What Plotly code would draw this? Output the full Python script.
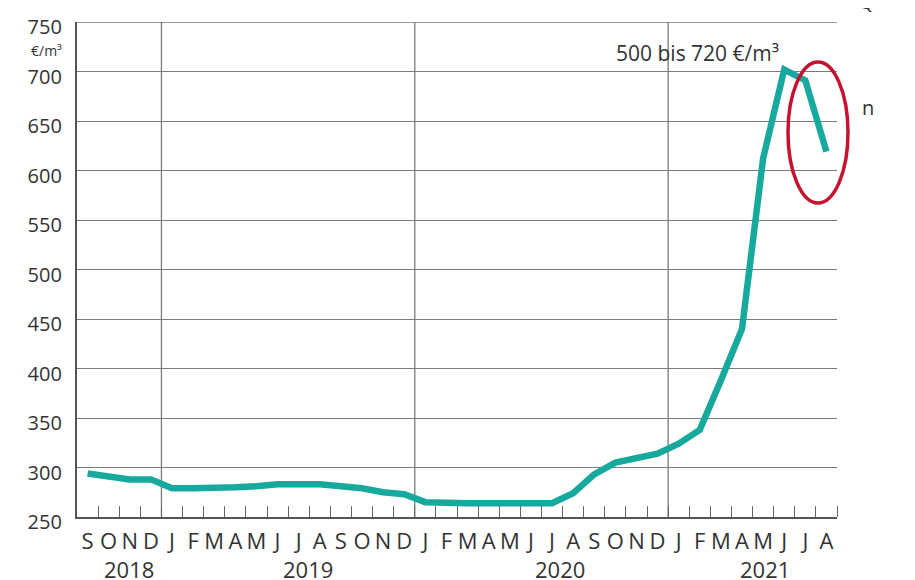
import plotly.graph_objects as go

months_2018 = ["S", "O", "N", "D"]
months_full = ["J", "F", "M", "A", "M", "J", "J", "A", "S", "O", "N", "D"]
months_2021 = ["J", "F", "M", "A", "M", "J", "J", "A"]
month_labels = months_2018 + months_full + months_full + months_2021

years = ["2018", "2019", "2020", "2021"]

price_2018 = [294, 291, 288, 288]
price_2019 = [279, 279, 279, 280, 281, 283, 283, 283, 281, 279, 275, 273]
price_2020 = [265, 264, 264, 264, 264, 264, 264, 274, 293, 305, 310, 314]
price_2021 = [324, 338, 388, 440, 612, 702, 691, 619]
prices = price_2018 + price_2019 + price_2020 + price_2021

y_ticks = [250, 300, 350, 400, 450, 500, 550, 600, 650, 700, 750]

FONT = "Open Sans"
TXT = "#333333"
GRID = "#7a7a7a"

# plot area in reference pixels: x 77..837, y 22..517 ; page body adds 8px offset
L, T, W, H = 77, 22, 760, 495
OFF = 8


def px(xp):
    return (xp - L) / W


def py(yp):
    return (T + H - yp) / H


x_idx = list(range(len(month_labels)))
seg_lens = [len(months_2018), 12, 12, len(months_2021)]
bounds = []
acc = 0
for s in seg_lens[:-1]:
    acc += s
    bounds.append(acc - 0.5)
starts = [0]
for s in seg_lens[:-1]:
    starts.append(starts[-1] + s)
year_x = [s + (n - 1) / 2 + off for s, n, off in zip(starts, seg_lens, [0.45, 0.95, 0.9, 0.6])]

fig = go.Figure()
fig.add_trace(go.Scatter(
    x=x_idx, y=prices, mode="lines",
    line=dict(color="#17a99d", width=6.5),
    hoverinfo="skip", showlegend=False,
))

shapes = []
for b in bounds:
    shapes.append(dict(type="line", xref="x", yref="paper", x0=b, x1=b, y0=0, y1=1,
                       line=dict(color=GRID, width=1.3), layer="below"))
# top frame line at the highest tick
shapes.append(dict(type="line", xref="paper", yref="y", x0=0, x1=1, y0=y_ticks[-1], y1=y_ticks[-1],
                   line=dict(color=GRID, width=1.3), layer="below"))
shapes.append(dict(type="circle", xref="paper", yref="paper",
                   x0=px(788), x1=px(848), y0=py(203), y1=py(62),
                   line=dict(color="#c4122f", width=3.5)))

annotations = []
for yx, yl in zip(year_x, years):
    annotations.append(dict(x=yx, y=0, xref="x", yref="paper", xanchor="center", yanchor="middle",
                            yshift=-52, text=yl, showarrow=False,
                            font=dict(family=FONT, size=22, color=TXT)))
annotations.append(dict(x=28.9, y=719, xref="x", yref="y", xanchor="center", yanchor="middle",
                        text="500 bis 720 €/m³", showarrow=False,
                        font=dict(family=FONT, size=21, color=TXT)))
annotations.append(dict(x=0, y=py(50), xref="paper", yref="paper", xanchor="right", yanchor="middle",
                        xshift=-13, text="€/m³", showarrow=False,
                        font=dict(family=FONT, size=14, color=TXT)))
annotations.append(dict(x=px(868), y=py(107), xref="paper", yref="paper", xanchor="center",
                        yanchor="middle", text="n", showarrow=False,
                        font=dict(family=FONT, size=20, color=TXT)))
annotations.append(dict(x=px(866), y=1, yshift=T - 2, xref="paper", yref="paper", xanchor="center",
                        yanchor="middle", text="Q", showarrow=False,
                        font=dict(family=FONT, size=19, color=TXT)))

fig.update_layout(
    width=915, height=580,
    margin=dict(l=L - OFF, r=915 - (L + W) + OFF, t=T - OFF, b=580 - (T + H) + OFF),
    paper_bgcolor="white", plot_bgcolor="white",
    font=dict(family=FONT, color=TXT),
    shapes=shapes, annotations=annotations,
    xaxis=dict(
        range=[-0.5, len(month_labels) - 0.5],
        tickmode="array", tickvals=x_idx, ticktext=month_labels,
        ticks="", showgrid=False, zeroline=False, automargin=False,
        showline=True, linecolor="#555555", linewidth=2.2,
        ticklabelstandoff=3, ticklabeloverflow="allow",
        tickfont=dict(family=FONT, size=22, color=TXT),
        minor=dict(tickmode="array", tickvals=[i + 0.5 for i in x_idx],
                   ticks="inside", ticklen=11, tickcolor="#666666", tickwidth=1.2, showgrid=False),
        fixedrange=True,
    ),
    yaxis=dict(
        range=[250, 750], tickmode="array", tickvals=y_ticks,
        showgrid=True, gridcolor=GRID, gridwidth=1.3, zeroline=False, automargin=False,
        showline=True, linecolor="#555555", linewidth=2.2,
        ticks="", ticklabelstandoff=9, ticklabelshift=5, ticklabeloverflow="allow",
        tickfont=dict(family=FONT, size=20, color=TXT),
        fixedrange=True,
    ),
)

fig.write_html("out.html")
